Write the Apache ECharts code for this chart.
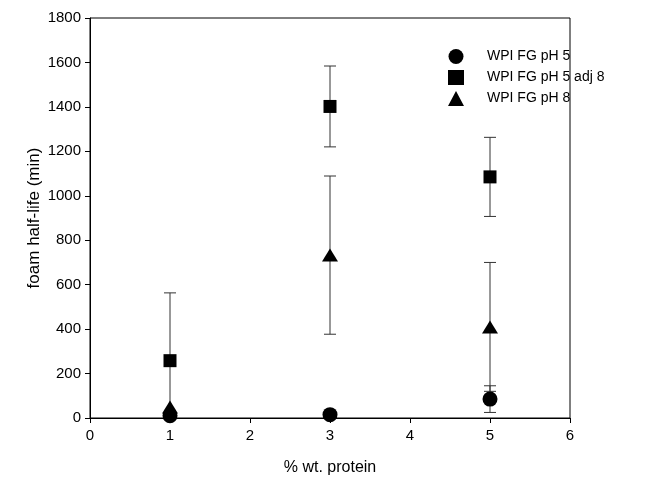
<!DOCTYPE html>
<html>
<head>
<meta charset="utf-8">
<script src="https://cdn.jsdelivr.net/npm/echarts@6/dist/echarts.min.js"></script>
<style>html,body{margin:0;padding:0;background:#fff;}#c{width:665px;height:484px;}</style>
</head>
<body>
<div id="c"></div>
<script>
// Data
var seriesNames = ['WPI FG pH 5', 'WPI FG pH 5 adj 8', 'WPI FG pH 8'];
var proteinPct = [1, 3, 5];
var ph5Mean = [10, 15, 85];
var ph5Err = [0, 0, 60];
var ph5adj8Mean = [258, 1402, 1085];
var ph5adj8Err = [305, 182, 178];
var ph8Mean = [50, 733, 410];
var ph8Err = [0, 356, 290];

function pts(mean) { return proteinPct.map(function (x, i) { return [x, mean[i]]; }); }
function errs(mean, err) {
  var out = [];
  proteinPct.forEach(function (x, i) { if (err[i] > 0) out.push([x, mean[i] - err[i], mean[i] + err[i]]); });
  return out;
}

function errorSeries(data) {
  return {
    type: 'custom', silent: true, z: 1, clip: true,
    renderItem: function (params, api) {
      var x = api.value(0);
      var lo = api.coord([x, Math.max(api.value(1), 0)]);
      var hi = api.coord([x, api.value(2)]);
      var loReal = api.value(1) >= 0;
      var w = 6;
      var style = { stroke: '#333', lineWidth: 1 };
      var children = [
        { type: 'line', shape: { x1: hi[0], y1: hi[1], x2: lo[0], y2: lo[1] }, style: style },
        { type: 'line', shape: { x1: hi[0] - w, y1: hi[1], x2: hi[0] + w, y2: hi[1] }, style: style }
      ];
      if (loReal) children.push({ type: 'line', shape: { x1: lo[0] - w, y1: lo[1], x2: lo[0] + w, y2: lo[1] }, style: style });
      return { type: 'group', children: children };
    },
    encode: { x: 0, y: [1, 2] },
    data: data
  };
}

var chart = echarts.init(document.getElementById('c'), null, { renderer: 'canvas' });
var font = 'Liberation Sans, Arial, sans-serif';
var mk = { color: '#000', opacity: 1 };
chart.setOption({
  animation: false,
  backgroundColor: '#fff',
  grid: { left: 90, right: 95, top: 18, bottom: 66, show: true, borderColor: '#000', borderWidth: 1, backgroundColor: 'transparent' },
  legend: {
    orient: 'vertical', left: 443, top: 44, itemGap: 6, itemWidth: 16, itemHeight: 15,
    itemStyle: { color: '#000', opacity: 1 },
    textStyle: { fontFamily: font, fontSize: 14, color: '#000', padding: [0, 0, 0, 18] },
    data: [
      { name: seriesNames[0], icon: 'circle' },
      { name: seriesNames[1], icon: 'rect' },
      { name: seriesNames[2], icon: 'triangle' }
    ]
  },
  xAxis: {
    type: 'value', min: 0, max: 6, interval: 1,
    name: '% wt. protein', nameLocation: 'middle', nameGap: 42, nameMoveOverlap: false,
    nameTextStyle: { fontFamily: font, fontSize: 16, color: '#000' },
    axisLine: { onZero: false, lineStyle: { color: '#000', width: 1 } },
    axisTick: { show: true, inside: false, length: 5, lineStyle: { color: '#000' } },
    axisLabel: { fontFamily: font, fontSize: 15, color: '#000', margin: 10 },
    splitLine: { show: false }
  },
  yAxis: {
    type: 'value', min: 0, max: 1800, interval: 200,
    name: 'foam half-life (min)', nameLocation: 'middle', nameGap: 47, nameRotate: 90, nameMoveOverlap: false,
    nameTextStyle: { fontFamily: font, fontSize: 17, color: '#000' },
    axisLine: { show: true, onZero: false, lineStyle: { color: '#000', width: 1 } },
    axisTick: { show: true, inside: false, length: 5, lineStyle: { color: '#000' } },
    axisLabel: { fontFamily: font, fontSize: 15, color: '#000', margin: 9, formatter: function (v) { return String(v); } },
    splitLine: { show: false }
  },
  series: [
    errorSeries(errs(ph5adj8Mean, ph5adj8Err)),
    errorSeries(errs(ph8Mean, ph8Err)),
    errorSeries(errs(ph5Mean, ph5Err)),
    { name: seriesNames[2], type: 'scatter', symbol: 'triangle', symbolSize: [16, 13], z: 3, itemStyle: mk, data: pts(ph8Mean) },
    { name: seriesNames[1], type: 'scatter', symbol: 'rect', symbolSize: 13, z: 3, itemStyle: mk, data: pts(ph5adj8Mean) },
    { name: seriesNames[0], type: 'scatter', symbol: 'circle', symbolSize: 15, z: 4, itemStyle: mk, data: pts(ph5Mean) }
  ]
});
</script>
</body>
</html>
